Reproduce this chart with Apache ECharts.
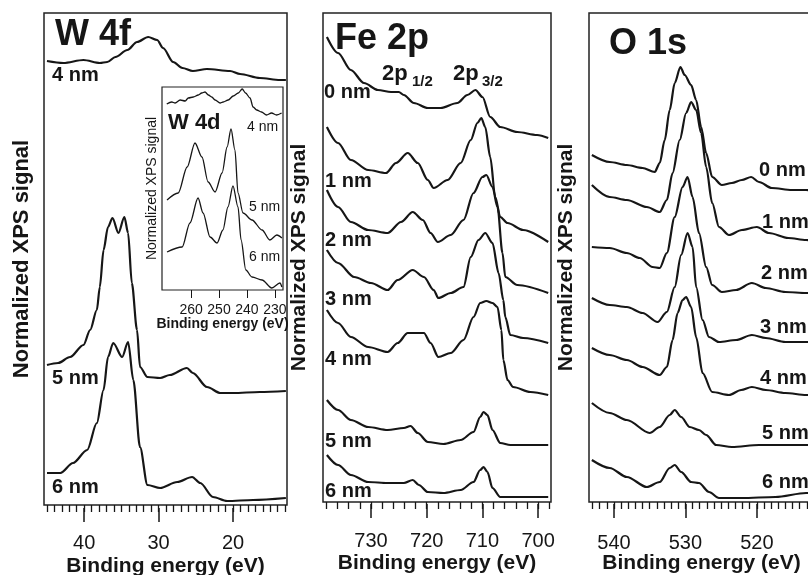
<!DOCTYPE html>
<html>
<head>
<meta charset="utf-8">
<script src="https://cdn.jsdelivr.net/npm/echarts@6/dist/echarts.min.js"></script>
<style>
  html, body { margin: 0; padding: 0; background: #fff; }
  #chart { width: 808px; height: 575px; }
</style>
</head>
<body>
<div id="chart"></div>
<script>
// spectra as [binding energy (eV), normalized signal (a.u., stacked)]
const w4f4nm = [[45.0, 444], [42.8, 442], [40.1, 445], [37.9, 442], [36.9, 443], [35.8, 448], [34.2, 455], [32.9, 463], [31.4, 468], [30.2, 465], [29.4, 457], [28.05, 443], [26.8, 437], [25.4, 434], [23.5, 436], [20.4, 434], [19.05, 431], [16.4, 427], [13.7, 425], [12.9, 425]]
const w4f5nm = [[45.0, 140], [43.5, 142], [41.9, 148], [40.1, 160], [39.2, 175], [38.3, 195], [37.9, 218], [37.4, 255], [36.8, 278], [36.2, 287], [35.4, 272], [34.6, 288], [34.1, 272], [33.6, 222], [32.9, 175], [32.5, 138], [31.5, 128], [29.8, 127], [28.5, 130], [26.2, 137], [25.4, 132], [23.5, 118], [21.7, 112], [20.0, 112], [16.4, 113], [12.9, 114]]
const w4f6nm = [[45.0, 32], [43.2, 32], [41.5, 42], [39.6, 55], [38.3, 82], [37.4, 115], [36.8, 148], [36.1, 162], [34.9, 148], [34.1, 163], [33.4, 125], [32.5, 58], [31.5, 20], [29.8, 17], [27.5, 23], [25.5, 28], [24.4, 22], [22.7, 8], [20.8, 4], [17.3, 5], [12.9, 7]]

const w4d4nm = [[268.7, 186], [266.9, 188], [265.7, 187], [263.9, 190], [262.1, 189], [261.0, 192], [259.2, 193], [257.4, 195], [256.2, 197], [255.0, 198], [253.8, 195], [252.6, 193], [251.4, 190], [249.6, 187], [248.5, 188], [246.7, 190], [244.9, 194], [243.1, 197], [241.7, 201], [240.5, 197], [238.9, 192], [237.8, 183], [236.5, 180], [234.8, 178], [233.0, 175], [231.2, 177], [229.4, 175], [227.6, 177]]
const w4d5nm = [[268.6, 90], [264.6, 97], [261.4, 123], [258.6, 147], [256.1, 133], [253.9, 108], [251.4, 98], [248.9, 117], [247.1, 143], [245.7, 161], [244.3, 140], [243.2, 97], [241.4, 77], [238.2, 70], [234.6, 60], [231.8, 50], [229.3, 55], [227.5, 52]]
const w4d6nm = [[268.6, 38], [263.2, 43], [260.4, 67], [257.5, 92], [255.7, 77], [253.2, 53], [250.7, 47], [248.6, 60], [246.8, 83], [245.0, 104], [243.2, 83], [242.1, 50], [240.4, 20], [238.2, 13], [234.6, 10], [231.1, 2], [228.2, 7], [227.5, 3]]

const fe0nm = [[737.9, 465], [735.9, 449], [733.6, 432], [731.25, 419], [728.75, 412], [726.4, 410], [725.0, 410], [724.1, 407], [722.3, 399], [719.8, 394], [717.5, 394], [714.5, 399], [712.7, 407], [711.25, 412], [710.0, 405], [708.6, 385], [706.8, 375], [703.75, 370], [700.2, 367], [698.2, 364]]
const fe1nm = [[737.9, 375], [735.9, 359], [733.6, 342], [730.5, 332], [727.3, 329], [725.5, 339], [723.4, 349], [721.6, 339], [719.8, 322], [718.75, 314], [716.25, 322], [713.9, 339], [712.1, 362], [710.9, 379], [710.2, 384], [709.5, 375], [708.6, 345], [707.7, 305], [706.8, 285], [705.5, 279], [702.7, 272], [698.2, 260]]
const fe2nm = [[737.9, 312], [735.9, 295], [733.6, 280], [730.5, 272], [727.0, 269], [724.6, 280], [722.5, 290], [720.7, 282], [719.3, 269], [718.0, 260], [715.7, 267], [713.4, 282], [711.6, 309], [710.0, 325], [709.3, 327], [708.2, 315], [707.3, 295], [706.4, 249], [705.9, 225], [703.75, 217], [698.2, 209]]
const fe3nm = [[737.9, 252], [735.9, 239], [733.0, 225], [730.0, 219], [727.0, 212], [725.2, 222], [722.5, 232], [720.5, 225], [718.75, 212], [717.9, 204], [715.7, 209], [713.4, 215], [712.1, 245], [710.7, 262], [709.5, 269], [708.2, 259], [707.1, 229], [706.25, 202], [705.9, 185], [705.0, 167], [702.7, 164], [698.2, 159]]
const fe4nm = [[737.9, 192], [735.9, 179], [733.6, 165], [730.5, 155], [727.0, 150], [725.2, 159], [723.4, 169], [722.3, 169], [720.5, 169], [719.3, 159], [717.9, 145], [715.7, 149], [713.4, 162], [711.6, 185], [710.4, 199], [709.3, 201], [708.2, 199], [707.3, 195], [706.6, 172], [706.25, 142], [705.5, 122], [704.5, 115], [701.4, 110], [698.2, 107]]
const fe5nm = [[737.9, 102], [735.9, 92], [733.6, 82], [730.5, 75], [727.0, 72], [724.1, 74], [722.9, 76], [721.6, 69], [719.8, 60], [717.0, 58], [713.9, 62], [711.6, 70], [710.4, 85], [709.8, 90], [709.1, 87], [708.2, 72], [706.8, 59], [705.0, 57], [698.2, 57]]
const fe6nm = [[737.9, 47], [735.9, 37], [733.6, 27], [730.5, 20], [727.0, 19], [724.1, 19], [722.5, 22], [721.4, 17], [719.8, 10], [717.0, 9], [713.9, 12], [711.6, 20], [710.4, 32], [709.8, 35], [709.1, 30], [708.2, 14], [706.8, 5], [705.0, 5], [698.2, 5]]

const o0nm = [[543.1, 347], [540.6, 340], [538.2, 337], [536.0, 334], [534.3, 330], [533.6, 339], [532.9, 362], [532.2, 392], [531.5, 419], [530.7, 435], [530.1, 427], [529.2, 417], [528.5, 402], [527.8, 375], [527.1, 349], [526.25, 325], [524.9, 317], [523.5, 319], [522.1, 322], [520.8, 325], [519.7, 320], [517.9, 314], [515.1, 312], [513.1, 312], [512, 311]]
const o1nm = [[543.1, 317], [540.6, 305], [538.2, 302], [535.4, 295], [533.6, 290], [532.6, 302], [531.8, 329], [530.8, 362], [529.9, 389], [529.2, 400], [528.5, 392], [527.8, 369], [527.1, 335], [526.25, 299], [525.3, 275], [523.9, 267], [522.1, 272], [520.0, 275], [518.3, 269], [515.6, 264], [513.1, 262], [512, 261]]
const o2nm = [[543.1, 255], [540.6, 254], [538.2, 249], [536.4, 244], [534.6, 235], [533.6, 234], [532.6, 249], [531.5, 285], [530.4, 315], [529.7, 325], [529.0, 305], [528.1, 269], [527.1, 235], [526.25, 217], [524.9, 210], [522.9, 212], [520.7, 219], [518.75, 214], [516.0, 210], [513.1, 209], [512, 209]]
const o3nm = [[543.1, 204], [540.6, 197], [538.2, 195], [536.0, 189], [533.9, 180], [532.6, 190], [531.5, 215], [530.6, 247], [529.7, 269], [529.0, 255], [528.5, 215], [527.6, 182], [526.7, 165], [525.3, 160], [522.9, 162], [520.7, 167], [518.75, 164], [516.0, 160], [513.1, 160], [512, 160]]
const o4nm = [[543.1, 154], [540.6, 147], [538.2, 142], [536.0, 135], [533.6, 127], [532.6, 135], [531.8, 162], [531.1, 189], [530.4, 202], [529.9, 205], [529.2, 195], [528.5, 165], [527.6, 129], [526.25, 110], [523.9, 107], [522.2, 112], [520.7, 115], [518.75, 112], [516.0, 109], [513.1, 107], [512, 107]]
const o5nm = [[543.1, 99], [540.6, 89], [538.2, 82], [535.0, 69], [533.6, 75], [532.2, 87], [531.5, 92], [530.6, 85], [529.4, 75], [528.1, 72], [527.1, 67], [525.7, 57], [523.5, 55], [519.7, 57], [513.1, 57], [512, 57]]
const o6nm = [[543.1, 42], [540.6, 34], [538.2, 25], [535.4, 15], [533.6, 20], [532.2, 34], [531.5, 37], [530.6, 30], [529.2, 20], [528.1, 19], [526.7, 10], [525.3, 4], [522.1, 4], [517.4, 5], [513.1, 9], [512, 9]]

// tick values
const w4fMajor = [40, 30, 20]
const w4fMinor = [45, 44, 43, 42, 41, 40, 39, 38, 37, 36, 35, 34, 33, 32, 31, 30, 29, 28, 27, 26, 25, 24, 23, 22, 21, 20, 19, 18, 17, 16, 15, 14, 13]
const feMajor = [730, 720, 710, 700]
const feMinor = [738, 736, 734, 732, 730, 728, 726, 724, 722, 720, 718, 716, 714, 712, 710, 708, 706, 704, 702, 700, 698]
const oMajor = [540, 530, 520]
const oMinor = [543, 542, 541, 540, 539, 538, 537, 536, 535, 534, 533, 532, 531, 530, 529, 528, 527, 526, 525, 524, 523, 522, 521, 520, 519, 518, 517, 516, 515, 514, 513, 512]
const w4dMajor = [260, 250, 240, 230]

const FONT = '"Liberation Sans", Arial, sans-serif'
const INK = '#161616'

const chart = echarts.init(document.getElementById('chart'))

function bottomAxes(gi, min, max, minor, major, o) {
  const base = {
    gridIndex: gi, type: 'value', inverse: true, min: min, max: max,
    position: 'bottom', offset: o.offset,
    axisLine: { show: false }, splitLine: { show: false }
  }
  return [
    Object.assign({}, base, {
      axisTick: { show: true, customValues: minor, length: 7, lineStyle: { color: INK, width: 1.3 } },
      axisLabel: { show: false }
    }),
    Object.assign({}, base, {
      axisTick: { show: true, customValues: major, length: 14, lineStyle: { color: INK, width: 1.5 } },
      axisLabel: { show: true, customValues: major, margin: o.margin, fontSize: 20, color: INK, fontFamily: FONT },
      name: 'Binding energy (eV)', nameLocation: 'middle', nameGap: o.nameGap, nameMoveOverlap: false,
      nameTextStyle: { fontSize: 21, fontWeight: 'bold', color: INK, fontFamily: FONT }
    })
  ]
}

function leftAxis(gi, max, gap, size, weight) {
  return {
    gridIndex: gi, type: 'value', min: 0, max: max,
    axisLine: { show: false }, axisTick: { show: false }, axisLabel: { show: false }, splitLine: { show: false },
    name: 'Normalized XPS signal', nameLocation: 'middle', nameGap: gap, nameMoveOverlap: false,
    nameTextStyle: { fontSize: size, fontWeight: weight, color: INK, fontFamily: FONT }
  }
}

function spectrum(data, xi, yi, w) {
  return {
    type: 'line', data: data, xAxisIndex: xi, yAxisIndex: yi,
    showSymbol: false, silent: true, clip: true,
    smooth: 0.3, smoothMonotone: 'x',
    lineStyle: { color: INK, width: w }
  }
}

function label(text, x, y, size, weight) {
  return {
    type: 'text', x: x, y: y, z: 100,
    style: {
      text: text, fill: INK, font: (weight || 'bold') + ' ' + size + 'px ' + FONT,
      textAlign: 'left', textVerticalAlign: 'middle', align: 'left', verticalAlign: 'middle'
    }
  }
}

const box = { show: true, borderColor: '#222', borderWidth: 1.5, backgroundColor: '#fff', outerBoundsMode: 'none', containLabel: false }

const xAxes = []
  .concat(bottomAxes(0, 12.75, 45.4, w4fMinor, w4fMajor, { offset: 3, margin: 25, nameGap: 48 }))
  .concat(bottomAxes(1, 697.7, 738.6, feMinor, feMajor, { offset: 2, margin: 27, nameGap: 49 }))
  .concat(bottomAxes(2, 512, 543.5, oMinor, oMajor, { offset: 2, margin: 29, nameGap: 49 }))
xAxes.push({
  gridIndex: 3, type: 'value', inverse: true, min: 227.1, max: 270.4, position: 'bottom',
  axisLine: { show: false }, splitLine: { show: false },
  axisTick: { show: true, customValues: w4dMajor, length: 8, lineStyle: { color: INK, width: 1 } },
  axisLabel: { show: true, customValues: w4dMajor, margin: 13, fontSize: 14, color: INK, fontFamily: FONT },
  name: 'Binding energy (eV)', nameLocation: 'middle', nameGap: 27, nameMoveOverlap: false,
  nameTextStyle: { fontSize: 14, fontWeight: 'bold', color: INK, fontFamily: FONT }
})

chart.setOption({
  animation: false,
  grid: [
    Object.assign({ left: 44, top: 13, width: 243, height: 492 }, box),
    Object.assign({ left: 323, top: 13, width: 228, height: 489 }, box),
    Object.assign({ left: 589, top: 13, width: 225, height: 489 }, box),
    Object.assign({ left: 162, top: 87, width: 121, height: 203 }, box, { borderWidth: 1.2 })
  ],
  xAxis: xAxes,
  yAxis: [
    leftAxis(0, 492, 11, 22, 'bold'),
    leftAxis(1, 489, 13, 21, 'bold'),
    leftAxis(2, 489, 12, 21, 'bold'),
    leftAxis(3, 203, 3, 14, 'normal')
  ],
  series: [
    spectrum(w4f4nm, 0, 0, 2.2), spectrum(w4f5nm, 0, 0, 2.2), spectrum(w4f6nm, 0, 0, 2.2),
    spectrum(fe0nm, 2, 1, 2.2), spectrum(fe1nm, 2, 1, 2.2), spectrum(fe2nm, 2, 1, 2.2), spectrum(fe3nm, 2, 1, 2.2),
    spectrum(fe4nm, 2, 1, 2.2), spectrum(fe5nm, 2, 1, 2.2), spectrum(fe6nm, 2, 1, 2.2),
    spectrum(o0nm, 4, 2, 2.2), spectrum(o1nm, 4, 2, 2.2), spectrum(o2nm, 4, 2, 2.2), spectrum(o3nm, 4, 2, 2.2),
    spectrum(o4nm, 4, 2, 2.2), spectrum(o5nm, 4, 2, 2.2), spectrum(o6nm, 4, 2, 2.2),
    spectrum(w4d4nm, 6, 3, 1.3), spectrum(w4d5nm, 6, 3, 1.3), spectrum(w4d6nm, 6, 3, 1.3)
  ],
  graphic: [
    label('W 4f', 55, 35, 36), label('Fe 2p', 335, 39, 36), label('O 1s', 609, 44, 36),
    label('4 nm', 52, 75, 20), label('5 nm', 52, 378, 20), label('6 nm', 52, 487, 20),
    label('2p', 382, 74, 22), label('1/2', 412, 82, 15),
    label('2p', 453, 74, 22), label('3/2', 482, 82, 15),
    label('0 nm', 324, 92, 20), label('1 nm', 325, 181, 20), label('2 nm', 325, 240, 20),
    label('3 nm', 325, 299, 20), label('4 nm', 325, 359, 20), label('5 nm', 325, 441, 20), label('6 nm', 325, 491, 20),
    label('0 nm', 759, 170, 20), label('1 nm', 762, 222, 20), label('2 nm', 761, 273, 20),
    label('3 nm', 760, 327, 20), label('4 nm', 760, 378, 20), label('5 nm', 762, 433, 20), label('6 nm', 762, 482, 20),
    label('W 4d', 168, 123, 22),
    label('4 nm', 247, 127, 14, 'normal'), label('5 nm', 249, 207, 14, 'normal'), label('6 nm', 249, 257, 14, 'normal')
  ]
})
</script>
</body>
</html>
